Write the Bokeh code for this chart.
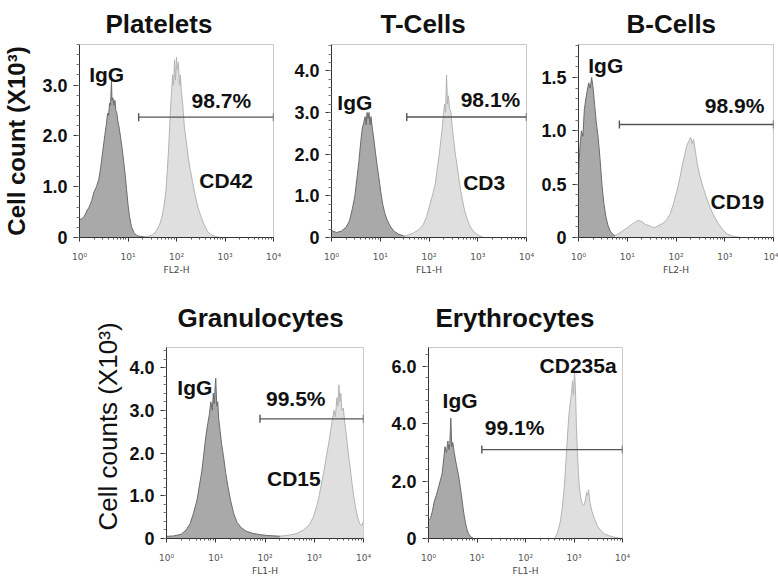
from bokeh.plotting import figure
from bokeh.models import FixedTicker, CustomJSTickFormatter, Range1d, Title
from bokeh.layouts import row, column
from bokeh.embed import file_html
from bokeh.resources import INLINE
from bokeh.core.properties import value

# ---------------- data (x as log10 of fluorescence, y as count x10^3) -------------
titles = ["Platelets", "T-Cells", "B-Cells", "Granulocytes", "Erythrocytes"]
channels = ["FL2-H", "FL1-H", "FL2-H", "FL1-H", "FL1-H"]
markers = ["CD42", "CD3", "CD19", "CD15", "CD235a"]
percents = ["98.7%", "98.1%", "98.9%", "99.5%", "99.1%"]
y_ends = [3.8, 4.63, 1.81, 4.47, 6.66]
y_ticks_list = [[0, 1, 2, 3], [0, 1, 2, 3, 4], [0, 0.5, 1.0, 1.5], [0, 1, 2, 3, 4], [0, 2, 4, 6]]
y_minor_step = [0.2, 0.2, 0.1, 0.2, 0.4]
x_ticks = [1, 10, 100, 1000, 10000]

# Platelets
pl_igg_x = [0.0, 0.05, 0.1, 0.15, 0.2, 0.25, 0.3, 0.35, 0.4, 0.44, 0.48, 0.52, 0.55, 0.58, 0.6,
            0.62, 0.64, 0.66, 0.67, 0.69, 0.71, 0.73, 0.75, 0.77, 0.79, 0.82, 0.85, 0.88, 0.91,
            0.94, 0.97, 1.0, 1.03, 1.07, 1.12, 1.18, 1.25, 1.35, 1.45]
pl_igg_y = [0.35, 0.37, 0.42, 0.52, 0.6, 0.72, 0.9, 1.0, 1.15, 1.4, 1.7, 2.0, 2.2, 2.45, 2.4,
            2.65, 2.6, 3.1, 2.7, 2.75, 2.6, 2.7, 2.5, 2.45, 2.3, 2.15, 1.95, 1.75, 1.5,
            1.25, 0.95, 0.65, 0.42, 0.22, 0.1, 0.04, 0.02, 0.01, 0.0]
pl_cd_x = [1.3, 1.4, 1.5, 1.58, 1.65, 1.7, 1.74, 1.78, 1.81, 1.84, 1.87, 1.9, 1.92, 1.94, 1.96,
           1.98, 2.0, 2.02, 2.04, 2.06, 2.08, 2.1, 2.13, 2.16, 2.2, 2.24, 2.28, 2.33, 2.38, 2.44,
           2.5, 2.57, 2.64, 2.72, 2.8, 2.9]
pl_cd_y = [0.0, 0.02, 0.05, 0.12, 0.25, 0.4, 0.6, 0.9, 1.3, 1.8, 2.4, 2.9, 3.2, 3.0, 3.5,
           3.1, 3.55, 3.3, 3.45, 3.0, 3.2, 2.9, 2.6, 2.2, 1.9, 1.6, 1.35, 1.1, 0.85, 0.6,
           0.42, 0.25, 0.12, 0.05, 0.02, 0.0]

# T-Cells
tc_igg_x = [0.0, 0.1, 0.2, 0.3, 0.37, 0.43, 0.48, 0.52, 0.56, 0.6, 0.63, 0.66, 0.69, 0.71, 0.73,
            0.75, 0.77, 0.79, 0.81, 0.84, 0.87, 0.9, 0.94, 0.97, 1.01, 1.05, 1.09, 1.14, 1.2,
            1.28, 1.38, 1.5, 1.65]
tc_igg_y = [0.17, 0.12, 0.15, 0.25, 0.4, 0.7, 1.0, 1.4, 1.8, 2.3, 2.6, 2.75, 2.9, 2.7, 3.0,
            2.85, 3.0, 2.7, 2.9, 2.6, 2.35, 2.05, 1.7, 1.45, 1.1, 0.8, 0.6, 0.42, 0.28,
            0.15, 0.08, 0.03, 0.0]
tc_cd_x = [1.4, 1.55, 1.7, 1.8, 1.88, 1.95, 2.02, 2.08, 2.13, 2.17, 2.21, 2.24, 2.27, 2.3, 2.32,
           2.34, 2.36, 2.38, 2.4, 2.42, 2.45, 2.48, 2.51, 2.54, 2.58, 2.62, 2.67, 2.72, 2.78,
           2.85, 2.93, 3.02, 3.12]
tc_cd_y = [0.0, 0.05, 0.12, 0.2, 0.3, 0.5, 0.8, 1.05, 1.3, 1.65, 2.0, 2.3, 2.6, 3.0, 3.2,
           3.0, 3.9, 3.2, 3.4, 3.1, 3.0, 2.6, 2.3, 2.0, 1.7, 1.35, 1.0, 0.7, 0.45,
           0.25, 0.12, 0.05, 0.0]

# B-Cells
bc_igg_x = [0.0, 0.03, 0.06, 0.09, 0.12, 0.15, 0.18, 0.21, 0.24, 0.27, 0.3, 0.33, 0.36, 0.4,
            0.44, 0.48, 0.52, 0.56, 0.6, 0.65, 0.7, 0.78, 0.88]
bc_igg_y = [0.6, 0.85, 1.0, 0.95, 1.2, 1.3, 1.38, 1.45, 1.4, 1.5, 1.4, 1.25, 1.1, 0.95,
            0.75, 0.5, 0.32, 0.2, 0.12, 0.06, 0.03, 0.01, 0.0]
bc_cd_x = [0.7, 0.8, 0.9, 1.0, 1.08, 1.15, 1.22, 1.3, 1.38, 1.46, 1.55, 1.63, 1.72, 1.8, 1.88,
           1.95, 2.02, 2.08, 2.13, 2.18, 2.22, 2.26, 2.3, 2.33, 2.36, 2.4, 2.44, 2.49, 2.55,
           2.62, 2.7, 2.78, 2.87, 2.96, 3.06, 3.18, 3.35]
bc_cd_y = [0.0, 0.03, 0.06, 0.09, 0.12, 0.14, 0.16, 0.15, 0.12, 0.11, 0.09, 0.11, 0.13, 0.16, 0.22,
           0.32, 0.44, 0.56, 0.68, 0.78, 0.86, 0.9, 0.94, 0.88, 0.92, 0.8, 0.68, 0.58, 0.48,
           0.38, 0.28, 0.2, 0.13, 0.07, 0.03, 0.01, 0.0]

# Granulocytes
gr_igg_x = [0.0, 0.15, 0.3, 0.4, 0.48, 0.55, 0.62, 0.67, 0.72, 0.76, 0.8, 0.84, 0.87, 0.9, 0.93,
            0.95, 0.97, 0.99, 1.0, 1.02, 1.04, 1.06, 1.09, 1.12, 1.16, 1.2, 1.25, 1.3, 1.36,
            1.43, 1.52, 1.62, 1.75, 1.9, 2.05, 2.2, 2.35]
gr_igg_y = [0.05, 0.06, 0.1, 0.2, 0.35, 0.6, 0.9, 1.25, 1.6, 2.0, 2.4, 2.7, 2.9, 3.2, 3.0,
            3.4, 3.15, 3.6, 3.75, 3.1, 3.2, 2.8, 2.5, 2.2, 1.9, 1.55, 1.2, 0.9, 0.6,
            0.38, 0.25, 0.17, 0.12, 0.09, 0.07, 0.06, 0.05]
gr_cd_x = [2.3, 2.5, 2.65, 2.78, 2.9, 2.98, 3.05, 3.1, 3.15, 3.2, 3.25, 3.29, 3.33, 3.37, 3.4,
           3.43, 3.46, 3.48, 3.5, 3.52, 3.54, 3.56, 3.59, 3.62, 3.65, 3.68, 3.72, 3.76, 3.8,
           3.84, 3.88, 3.92, 3.96, 4.0]
gr_cd_y = [0.05, 0.08, 0.12, 0.2, 0.32, 0.5, 0.75, 1.0, 1.3, 1.6, 1.95, 2.2, 2.5, 2.8, 3.0,
           2.85, 3.3, 3.1, 3.6, 3.2, 3.4, 3.0, 3.05, 2.7, 2.45, 2.1, 1.75, 1.35, 1.0,
           0.72, 0.5, 0.35, 0.3, 0.4]

# Erythrocytes
er_igg_x = [0.0, 0.04, 0.08, 0.12, 0.16, 0.2, 0.24, 0.28, 0.31, 0.34, 0.37, 0.4, 0.42, 0.44,
            0.46, 0.48, 0.5, 0.53, 0.56, 0.59, 0.62, 0.65, 0.68, 0.71, 0.74, 0.78, 0.82, 0.87, 0.93]
er_igg_y = [0.63, 0.7, 0.95, 1.3, 1.5, 1.75, 2.0, 2.25, 2.7, 3.2, 3.0, 3.4, 3.1, 3.3,
            4.2, 3.2, 3.35, 3.0, 2.7, 2.45, 2.2, 1.85, 1.5, 1.1, 0.75, 0.4, 0.18, 0.06, 0.0]
er_cd_x = [2.6, 2.66, 2.72, 2.76, 2.8, 2.83, 2.86, 2.89, 2.92, 2.95, 2.97, 2.99, 3.01, 3.03, 3.05,
           3.07, 3.09, 3.11, 3.14, 3.17, 3.2, 3.23, 3.26, 3.28, 3.3, 3.33, 3.37, 3.42, 3.48,
           3.55, 3.63, 3.72, 3.82, 3.92, 4.0]
er_cd_y = [0.0, 0.2, 0.6, 1.1, 1.8, 2.6, 3.4, 4.2, 4.7, 5.1, 5.5, 5.0, 5.85, 5.2, 3.9,
           3.0, 2.3, 1.8, 1.4, 1.2, 1.15, 1.3, 1.6, 1.5, 1.7, 1.25, 0.95, 0.7, 0.45,
           0.28, 0.16, 0.1, 0.05, 0.02, 0.0]

igg_x = [pl_igg_x, tc_igg_x, bc_igg_x, gr_igg_x, er_igg_x]
igg_y = [pl_igg_y, tc_igg_y, bc_igg_y, gr_igg_y, er_igg_y]
cd_x = [pl_cd_x, tc_cd_x, bc_cd_x, gr_cd_x, er_cd_x]
cd_y = [pl_cd_y, tc_cd_y, bc_cd_y, gr_cd_y, er_cd_y]

# gate bars: start (fluorescence), end, level (x10^3)
gate_start = [16.6, 35, 6.9, 79, 12.6]
gate_end = [10000, 10000, 10000, 10000, 10000]
gate_level = [2.37, 2.89, 1.06, 2.8, 3.1]

# ---------------- styling / layout -------------------------------------------------
FONT = "Liberation Sans"
IGG_FILL, IGG_LINE = "#a9a9a9", "#6b6b6b"
MK_FILL, MK_LINE = "#dfdfdf", "#b3b3b3"
GATE = "#555555"

# label anchor positions (log10 x, y) for IgG, marker, percent
igg_pos = [(0.2, 3.2), (0.12, 3.23), (0.2, 1.61), (0.22, 3.53), (0.29, 4.81)]
mk_pos = [(2.47, 1.12), (2.7, 1.33), (2.71, 0.34), (2.04, 1.4), (2.29, 6.03)]
pc_pos = [(2.31, 2.7), (2.65, 3.3), (2.59, 1.24), (2.02, 3.27), (1.16, 3.87)]

# figure geometry: width, height, border left, right, top, bottom, title offset, title standoff
geom = [
    (291, 285, 77, 18, 44, 48, 26, 12),
    (247, 285, 37, 12, 44, 48, 49, 12),
    (240, 285, 37, 5, 44, 48, 48, 12),
    (388, 293, 166, 25, 62, 40, 11, 30),
    (252, 293, 37, 18, 62, 40, 7, 30),
]

x_minor = [m * 10 ** k for k in range(4) for m in range(2, 10)]

xfmt_code = """
const sup = ["\u2070", "\u00b9", "\u00b2", "\u00b3", "\u2074"];
const e = Math.round(Math.log10(tick));
return "10" + sup[e];
"""
yfmt_code = "return tick == 0 ? '0' : tick.toFixed(1);"


def make_panel(i):
    w, h, bl, br, bt, bb, toff, tstand = geom[i]
    p = figure(width=w, height=h, x_axis_type="log",
               x_range=Range1d(1, 10000), y_range=Range1d(0, y_ends[i]),
               output_backend="svg", toolbar_location=None,
               min_border_left=bl, min_border_right=br,
               min_border_top=bt, min_border_bottom=bb,
               title=titles[i])
    p.title.text_font = FONT
    p.title.text_font_size = "26px"
    p.title.text_font_style = "bold"
    p.title.text_color = "#111111"
    p.title.align = "left"
    p.title.offset = toff
    p.title.standoff = tstand
    p.grid.visible = False
    p.outline_line_color = "#c9c9c9"
    p.background_fill_color = "white"
    p.border_fill_color = "white"

    # histograms
    xi = [10 ** v for v in igg_x[i]]
    p.varea(x=xi, y1=0, y2=igg_y[i], fill_color=IGG_FILL)
    p.line(xi, igg_y[i], line_color=IGG_LINE, line_width=1)
    xc = [10 ** v for v in cd_x[i]]
    p.varea(x=xc, y1=0, y2=cd_y[i], fill_color=MK_FILL)
    p.line(xc, cd_y[i], line_color=MK_LINE, line_width=1)

    # gate
    p.segment(x0=[gate_start[i]], y0=[gate_level[i]], x1=[gate_end[i]], y1=[gate_level[i]],
              line_color=GATE, line_width=1.4)
    p.scatter(x=[gate_start[i], gate_end[i]], y=[gate_level[i], gate_level[i]],
              marker="dash", angle=1.5708, size=8, line_color=GATE, line_width=1.4)

    # labels
    lx = [10 ** igg_pos[i][0], 10 ** mk_pos[i][0], 10 ** pc_pos[i][0]]
    ly = [igg_pos[i][1], mk_pos[i][1], pc_pos[i][1]]
    p.text(x=lx, y=ly, text=["IgG", markers[i], percents[i]],
           text_font=value(FONT), text_font_size="21px", text_font_style="bold",
           text_color="#111111", text_align="left", text_baseline="middle")

    # x axis
    xa = p.xaxis[0]
    xa.ticker = FixedTicker(ticks=x_ticks, minor_ticks=x_minor)
    xa.formatter = CustomJSTickFormatter(code=xfmt_code)
    xa.major_label_text_font = "DejaVu Sans"
    xa.major_label_text_font_size = "9px"
    xa.major_label_text_color = "#555555"
    xa.major_label_standoff = 10
    xa.major_tick_in = 0
    xa.major_tick_out = 4
    xa.minor_tick_in = 0
    xa.minor_tick_out = 2
    xa.axis_label = channels[i]
    xa.axis_label_text_font = "DejaVu Sans"
    xa.axis_label_text_font_size = "9px"
    xa.axis_label_text_font_style = "normal"
    xa.axis_label_text_color = "#444444"
    xa.axis_label_standoff = 0
    xa.axis_line_color = "#333333"
    xa.major_tick_line_color = "#333333"
    xa.minor_tick_line_color = "#555555"

    # y axis
    ya = p.yaxis[0]
    mstep = y_minor_step[i]
    n_minor = int(round(y_ends[i] / mstep)) + 1
    ya.ticker = FixedTicker(ticks=y_ticks_list[i],
                            minor_ticks=[round(k * mstep, 3) for k in range(n_minor)])
    ya.formatter = CustomJSTickFormatter(code=yfmt_code)
    ya.major_label_text_font = FONT
    ya.major_label_text_font_size = "18px"
    ya.major_label_text_font_style = "bold"
    ya.major_label_text_color = "#111111"
    ya.major_label_standoff = 6
    ya.major_tick_in = 0
    ya.major_tick_out = 6
    ya.minor_tick_in = 0
    ya.minor_tick_out = 3
    ya.axis_line_color = "#333333"
    ya.major_tick_line_color = "#333333"
    ya.minor_tick_line_color = "#777777"
    if i == 0:
        ya.axis_label = "Cell count (X10\u00b3)"
        ya.axis_label_text_font = FONT
        ya.axis_label_text_font_size = "24px"
        ya.axis_label_text_font_style = "bold"
        ya.axis_label_text_color = "#111111"
        ya.axis_label_standoff = 9
    if i == 3:
        p.add_layout(Title(text="Cell counts (X10\u00b3)", align="left", offset=8,
                           standoff=8, text_font=FONT, text_font_size="26px",
                           text_font_style="normal", text_color="#111111"), "left")
    return p


figs = [make_panel(i) for i in range(5)]
layout = column(row(figs[0], figs[1], figs[2]), row(figs[3], figs[4]))

with open("out.html", "w", encoding="utf-8") as f:
    f.write(file_html(layout, INLINE))
